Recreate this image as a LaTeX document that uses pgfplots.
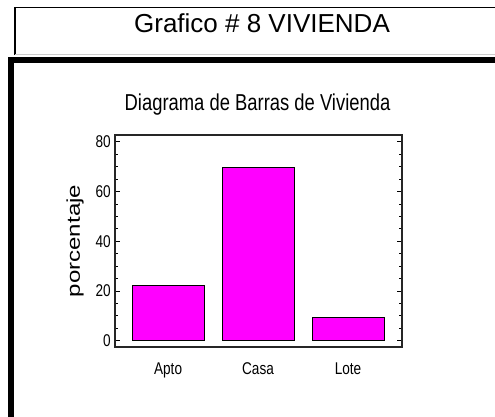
\documentclass[border=0pt]{standalone}
\usepackage{fontspec}
\setmainfont{Liberation Sans}
\newfontfamily\narrowfont[FakeStretch=0.8]{Liberation Sans}
\newfontfamily\widefont[FakeStretch=1.3]{Liberation Sans}
\usepackage{pgfplots}
\pgfplotsset{compat=1.18}
\definecolor{barmag}{RGB}{255,0,255}
\begin{document}
\begin{tikzpicture}[x=1pt,y=1pt]
\useasboundingbox (0,0) rectangle (495,417);
\clip (0,0) rectangle (495,417);
\fill[white] (0,0) rectangle (495,417);
% top box
\draw[line width=1.5pt] (15,362) -- (15,409.7) -- (500,409.7);
\draw[gray!40, line width=1pt] (15,362) -- (500,362);
\node[font=\fontsize{26}{30}\selectfont, anchor=base, inner sep=0pt] at (262,384) {Grafico \# 8 VIVIENDA};
% thick frame
\draw[line width=5.5pt] (11,-10) -- (11,357) -- (510,357);
\node[font=\narrowfont\fontsize{23}{26}\selectfont, anchor=base, inner sep=0pt] at (257.5,306) {Diagrama de Barras de Vivienda};
\begin{axis}[
  at={(115pt,70pt)}, anchor=south west,
  scale only axis, width=287pt, height=212pt,
  xmin=-0.59, xmax=2.6,
  ymin=-2.5, ymax=82.8,
  xtick=data,
  xticklabels={Apto,Casa,Lote},
  xtick style={draw=none},
  ytick={0,20,40,60,80},
  minor y tick num=3,
  tick align=inside,
  ytick pos=both,
  major tick length=5pt,
  minor tick length=3pt,
  tick style={line width=1pt, black},
  axis line style={line width=2pt, black!85},
  /pgf/number format/assume math mode=true,
  ticklabel style={font=\narrowfont\fontsize{17}{19}\selectfont},
  xticklabel style={anchor=base, inner sep=0pt, yshift=-28pt},
  yticklabel style={anchor=east, inner sep=0pt, xshift=-4pt},
  ylabel={porcentaje},
  ylabel style={font=\widefont\fontsize{18.5}{20}\selectfont, at={(axis description cs:-0.1394,0.5)}, anchor=center, inner sep=0pt},
]
\addplot[ybar, bar width=0.8, fill=barmag, draw=black, line width=1pt] coordinates {(0,22.3) (1,69.7) (2,9.3)};
\end{axis}
\end{tikzpicture}
\end{document}
